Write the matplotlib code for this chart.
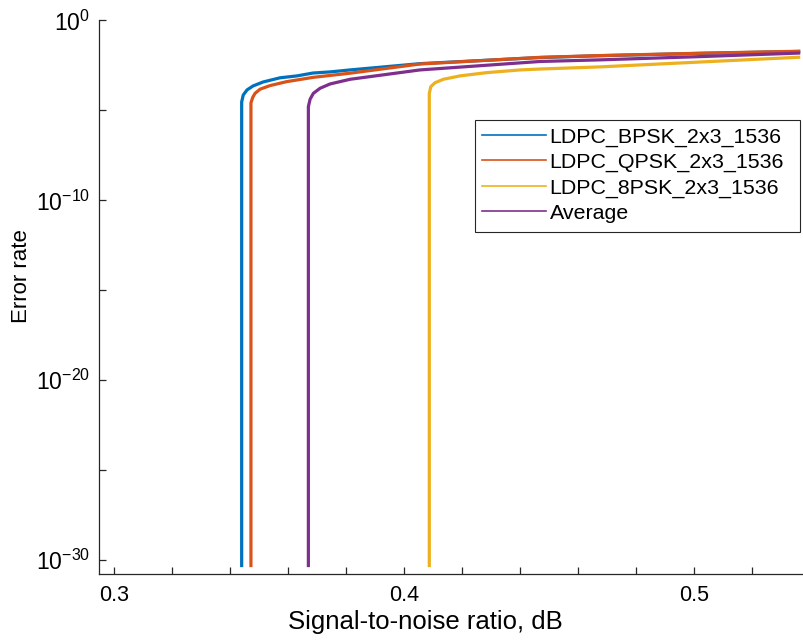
import math
import matplotlib
matplotlib.use("Agg")
import matplotlib.pyplot as plt
from matplotlib.ticker import MultipleLocator, FixedLocator, FuncFormatter, NullFormatter
from matplotlib.lines import Line2D
from matplotlib.patches import Rectangle

# signal-to-noise ratio (dB) and error rate
bpsk_snr = [0.3440, 0.3440, 0.34455, 0.34586, 0.34793, 0.35138, 0.35724, 0.36310, 0.36862,
            0.37448, 0.38138, 0.4055, 0.4469, 0.4676, 0.5021, 0.5366]
bpsk_err = [4.0e-31, 2.95e-5, 7.2e-5, 1.38e-4, 2.29e-4, 3.8e-4, 6.5e-4, 8.3e-4, 1.2e-3,
            1.38e-3, 1.78e-3, 3.98e-3, 8.7e-3, 1.1e-2, 1.48e-2, 1.9e-2]

qpsk_snr = [0.3472, 0.3472, 0.34783, 0.34862, 0.35034, 0.35379, 0.35955, 0.36872, 0.38138,
            0.4055, 0.4469, 0.4676, 0.5021, 0.5366]
qpsk_err = [4.0e-31, 2.63e-5, 5.37e-5, 8.9e-5, 1.51e-4, 2.4e-4, 3.98e-4, 6.9e-4, 1.17e-3,
            3.8e-3, 8.9e-3, 1.12e-2, 1.51e-2, 1.95e-2]

psk8_snr = [0.4087, 0.4087, 0.40921, 0.41069, 0.41355, 0.41931, 0.42852, 0.4400, 0.4469,
            0.4676, 0.5021, 0.5366]
psk8_err = [4.0e-31, 8.9e-5, 2.09e-4, 3.47e-4, 5.37e-4, 8.3e-4, 1.26e-3, 1.78e-3, 2.0e-3,
            2.63e-3, 4.9e-3, 9.1e-3]

avg_snr = [0.3670, 0.3670, 0.36759, 0.36872, 0.37103, 0.37448, 0.38138, 0.4055, 0.4469,
           0.4676, 0.5021, 0.5366]
avg_err = [4.0e-31, 1.62e-5, 4.17e-5, 8.9e-5, 1.7e-4, 2.95e-4, 5.37e-4, 1.78e-3, 5.25e-3,
           6.46e-3, 9.8e-3, 1.55e-2]

labels = ["LDPC_BPSK_2x3_1536", "LDPC_QPSK_2x3_1536", "LDPC_8PSK_2x3_1536", "Average"]
colors = ["#0072BD", "#D95319", "#EDB120", "#7E2F8E"]

plt.rcParams['font.family'] = ['Liberation Sans', 'DejaVu Sans']
plt.rcParams['mathtext.fontset'] = 'custom'
plt.rcParams['mathtext.rm'] = 'Liberation Sans'
plt.rcParams['mathtext.it'] = 'Liberation Sans'

fig = plt.figure(figsize=(8.04, 6.4), dpi=100)
ax = fig.add_axes([0.1231, 0.1031, 0.8744, 0.8649])

series = [(bpsk_snr, bpsk_err), (qpsk_snr, qpsk_err), (psk8_snr, psk8_err), (avg_snr, avg_err)]
for (x, y), c in zip(series, colors):
    ax.plot(x, y, color=c, lw=2.3, solid_capstyle='butt', solid_joinstyle='round')

ax.set_yscale('log')
ax.set_xlim(0.2948, 0.5372)
ax.set_ylim(10 ** -30.78, 1)

ax.xaxis.set_major_locator(MultipleLocator(0.1))
ax.xaxis.set_minor_locator(MultipleLocator(0.02))
ax.xaxis.set_major_formatter(FuncFormatter(lambda v, p: f"{v:.1f}"))
ax.yaxis.set_major_locator(FixedLocator([1e0, 1e-10, 1e-20, 1e-30]))
ax.yaxis.set_minor_locator(FixedLocator([1e-5, 1e-15, 1e-25]))
ax.yaxis.set_major_formatter(FuncFormatter(lambda v, p: r"$10^{%d}$" % round(math.log10(v))))
ax.yaxis.set_minor_formatter(NullFormatter())

for s in ["top", "right"]:
    ax.spines[s].set_visible(False)
for s in ["left", "bottom"]:
    ax.spines[s].set_color("#262626")
    ax.spines[s].set_linewidth(0.9)

ax.tick_params(which='both', direction='in', length=5, width=0.9, color="#262626",
               labelcolor="#000000")
ax.tick_params(axis='x', labelsize=15.5, pad=8)
ax.tick_params(axis='y', labelsize=16.5, pad=6.5)

ax.set_xlabel("Signal-to-noise ratio, dB", fontsize=18.5, va='top')
ax.xaxis.set_label_coords(0.464, -0.065)
ax.set_ylabel("Error rate", fontsize=16, va='center')
ax.yaxis.set_label_coords(-0.1095, 0.538)

# legend box
ax.add_patch(Rectangle((0.535, 0.617), 0.462, 0.2025, transform=ax.transAxes,
                       facecolor='white', edgecolor='#262626', lw=0.8, zorder=4))
handles = [Line2D([0], [0], color=c, lw=1.2) for c in colors]
leg = ax.legend(handles, labels, loc='upper left', bbox_to_anchor=(0.535, 0.8195),
                fontsize=15.4, frameon=False, handlelength=3.0,
                handletextpad=0.15, labelspacing=0.29, borderpad=0.33, borderaxespad=0)
leg.set_zorder(5)

fig.savefig("out.png", dpi=100)
